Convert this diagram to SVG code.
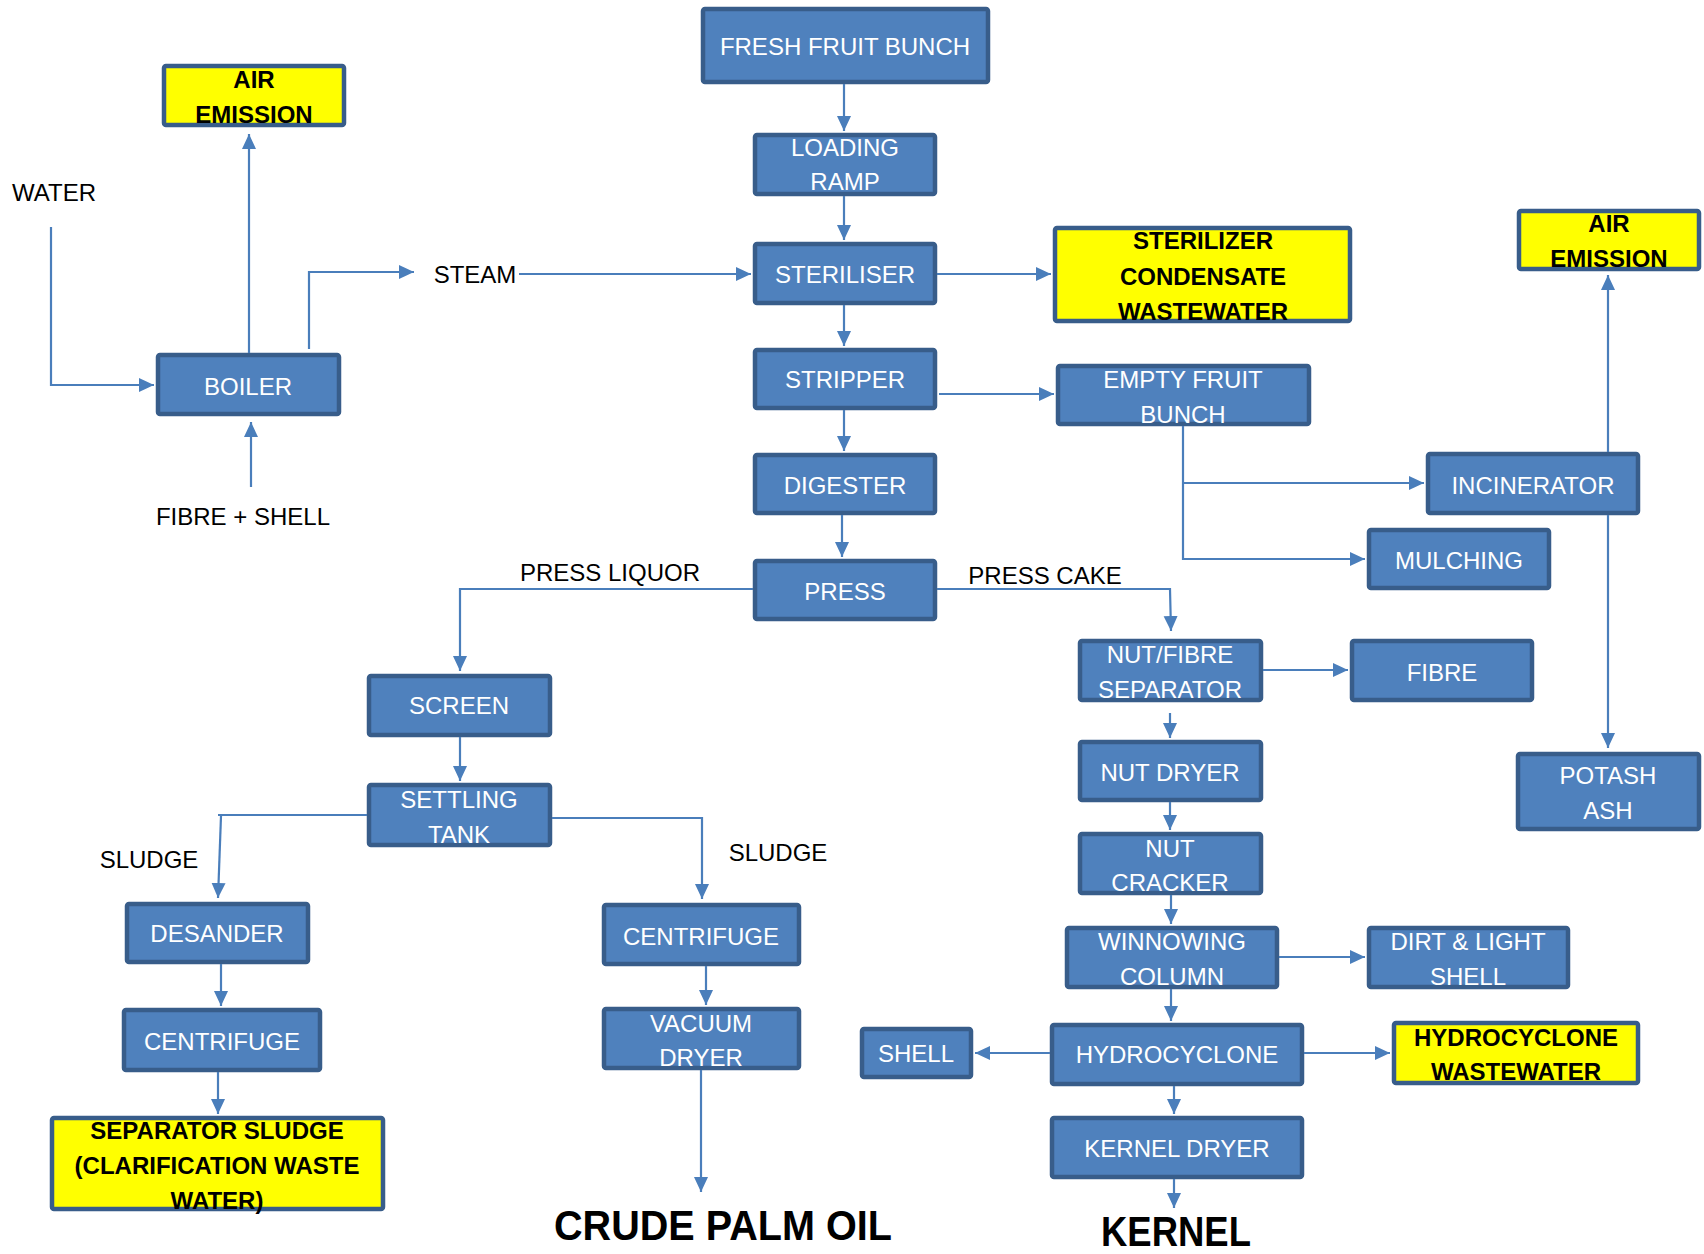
<svg xmlns="http://www.w3.org/2000/svg" width="1704" height="1254" viewBox="0 0 1704 1254">
<style>
.box{fill:#4F81BD;stroke:#385D8A;stroke-width:4.5}
.ybox{fill:#FFFF00;stroke:#385D8A;stroke-width:4.5}
.t{font-family:"Liberation Sans",Arial,sans-serif;font-size:24px;fill:#FFFFFF;text-anchor:middle}
.yt{font-family:"Liberation Sans",Arial,sans-serif;font-size:24px;font-weight:bold;fill:#000000;text-anchor:middle}
.lbl{font-family:"Liberation Sans",Arial,sans-serif;font-size:24px;fill:#000000;text-anchor:middle}
.big{font-family:"Liberation Sans",Arial,sans-serif;font-size:42px;font-weight:bold;fill:#000000;text-anchor:middle}
.c{fill:none;stroke:#4A7EBB;stroke-width:2.2}
</style>
<defs>
<marker id="ah" markerUnits="userSpaceOnUse" markerWidth="16" markerHeight="16" refX="15" refY="8" orient="auto">
<path d="M0,1 L15,8 L0,15 z" fill="#4A7EBB"/>
</marker>
</defs>
<rect width="1704" height="1254" fill="#FFFFFF"/>

<g id="labels">
<text class="lbl" x="54" y="201">WATER</text>
<text class="lbl" x="475" y="283">STEAM</text>
<text class="lbl" x="243" y="525">FIBRE + SHELL</text>
<text class="lbl" x="610" y="581">PRESS LIQUOR</text>
<text class="lbl" x="1045" y="584">PRESS CAKE</text>
<text class="lbl" x="149" y="868">SLUDGE</text>
<text class="lbl" x="778" y="861">SLUDGE</text>
<text class="big" x="723" y="1240" textLength="338" lengthAdjust="spacingAndGlyphs">CRUDE PALM OIL</text>
<text class="big" x="1176" y="1246" textLength="150" lengthAdjust="spacingAndGlyphs">KERNEL</text>
</g>

<g id="air-emission-1"><rect class="ybox" x="164" y="66" width="180" height="59" rx="2"/><text class="yt" x="254" y="88">AIR</text><text class="yt" x="254" y="123">EMISSION</text></g>
<g id="boiler"><rect class="box" x="158" y="355" width="181" height="59" rx="2"/><text class="t" x="248" y="395">BOILER</text></g>
<g id="fresh-fruit-bunch"><rect class="box" x="703" y="9" width="285" height="73" rx="2"/><text class="t" x="845" y="55">FRESH FRUIT BUNCH</text></g>
<g id="loading-ramp"><rect class="box" x="755" y="135" width="180" height="59" rx="2"/><text class="t" x="845" y="156">LOADING</text><text class="t" x="845" y="190">RAMP</text></g>
<g id="steriliser"><rect class="box" x="755" y="244" width="180" height="59" rx="2"/><text class="t" x="845" y="283">STERILISER</text></g>
<g id="sterilizer-condensate"><rect class="ybox" x="1055" y="228" width="295" height="93" rx="2"/><text class="yt" x="1203" y="249">STERILIZER</text><text class="yt" x="1203" y="285">CONDENSATE</text><text class="yt" x="1203" y="320">WASTEWATER</text></g>
<g id="stripper"><rect class="box" x="755" y="350" width="180" height="58" rx="2"/><text class="t" x="845" y="388">STRIPPER</text></g>
<g id="empty-fruit-bunch"><rect class="box" x="1058" y="366" width="251" height="58" rx="2"/><text class="t" x="1183" y="388">EMPTY FRUIT</text><text class="t" x="1183" y="423">BUNCH</text></g>
<g id="digester"><rect class="box" x="755" y="455" width="180" height="58" rx="2"/><text class="t" x="845" y="494">DIGESTER</text></g>
<g id="press"><rect class="box" x="755" y="561" width="180" height="58" rx="2"/><text class="t" x="845" y="600">PRESS</text></g>
<g id="incinerator"><rect class="box" x="1428" y="454" width="210" height="59" rx="2"/><text class="t" x="1533" y="494">INCINERATOR</text></g>
<g id="mulching"><rect class="box" x="1369" y="530" width="180" height="58" rx="2"/><text class="t" x="1459" y="569">MULCHING</text></g>
<g id="air-emission-2"><rect class="ybox" x="1519" y="211" width="180" height="58" rx="2"/><text class="yt" x="1609" y="232">AIR</text><text class="yt" x="1609" y="267">EMISSION</text></g>
<g id="potash-ash"><rect class="box" x="1518" y="754" width="181" height="75" rx="2"/><text class="t" x="1608" y="784">POTASH</text><text class="t" x="1608" y="819">ASH</text></g>
<g id="nut-fibre-separator"><rect class="box" x="1080" y="641" width="181" height="59" rx="2"/><text class="t" x="1170" y="663">NUT/FIBRE</text><text class="t" x="1170" y="698">SEPARATOR</text></g>
<g id="fibre"><rect class="box" x="1352" y="641" width="180" height="59" rx="2"/><text class="t" x="1442" y="681">FIBRE</text></g>
<g id="nut-dryer"><rect class="box" x="1080" y="742" width="181" height="58" rx="2"/><text class="t" x="1170" y="781">NUT DRYER</text></g>
<g id="nut-cracker"><rect class="box" x="1080" y="834" width="181" height="59" rx="2"/><text class="t" x="1170" y="857">NUT</text><text class="t" x="1170" y="891">CRACKER</text></g>
<g id="winnowing-column"><rect class="box" x="1067" y="928" width="210" height="59" rx="2"/><text class="t" x="1172" y="950">WINNOWING</text><text class="t" x="1172" y="985">COLUMN</text></g>
<g id="dirt-light-shell"><rect class="box" x="1369" y="928" width="199" height="59" rx="2"/><text class="t" x="1468" y="950">DIRT &amp; LIGHT</text><text class="t" x="1468" y="985">SHELL</text></g>
<g id="hydrocyclone"><rect class="box" x="1052" y="1025" width="250" height="59" rx="2"/><text class="t" x="1177" y="1063">HYDROCYCLONE</text></g>
<g id="shell"><rect class="box" x="862" y="1029" width="109" height="48" rx="2"/><text class="t" x="916" y="1062">SHELL</text></g>
<g id="hydrocyclone-wastewater"><rect class="ybox" x="1394" y="1023" width="244" height="60" rx="2"/><text class="yt" x="1516" y="1046">HYDROCYCLONE</text><text class="yt" x="1516" y="1080">WASTEWATER</text></g>
<g id="kernel-dryer"><rect class="box" x="1052" y="1118" width="250" height="59" rx="2"/><text class="t" x="1177" y="1157">KERNEL DRYER</text></g>
<g id="screen"><rect class="box" x="369" y="676" width="181" height="59" rx="2"/><text class="t" x="459" y="714">SCREEN</text></g>
<g id="settling-tank"><rect class="box" x="369" y="785" width="181" height="60" rx="2"/><text class="t" x="459" y="808">SETTLING</text><text class="t" x="459" y="843">TANK</text></g>
<g id="desander"><rect class="box" x="127" y="904" width="181" height="58" rx="2"/><text class="t" x="217" y="942">DESANDER</text></g>
<g id="centrifuge-1"><rect class="box" x="124" y="1010" width="196" height="60" rx="2"/><text class="t" x="222" y="1050">CENTRIFUGE</text></g>
<g id="separator-sludge"><rect class="ybox" x="52" y="1118" width="331" height="91" rx="2"/><text class="yt" x="217" y="1139">SEPARATOR SLUDGE</text><text class="yt" x="217" y="1174">(CLARIFICATION WASTE</text><text class="yt" x="217" y="1209">WATER)</text></g>
<g id="centrifuge-2"><rect class="box" x="604" y="905" width="195" height="59" rx="2"/><text class="t" x="701" y="945">CENTRIFUGE</text></g>
<g id="vacuum-dryer"><rect class="box" x="604" y="1009" width="195" height="59" rx="2"/><text class="t" x="701" y="1032">VACUUM</text><text class="t" x="701" y="1066">DRYER</text></g>

<g id="connectors">
<path class="c" d="M844,84 V131" marker-end="url(#ah)"/>
<path class="c" d="M844,196 V240" marker-end="url(#ah)"/>
<path class="c" d="M844,305 V346" marker-end="url(#ah)"/>
<path class="c" d="M844,410 V451" marker-end="url(#ah)"/>
<path class="c" d="M842,515 V557" marker-end="url(#ah)"/>
<path class="c" d="M937,274 H1051" marker-end="url(#ah)"/>
<path class="c" d="M939,394 H1054" marker-end="url(#ah)"/>
<path class="c" d="M51,227 V385 H154" marker-end="url(#ah)"/>
<path class="c" d="M249,353 V134" marker-end="url(#ah)"/>
<path class="c" d="M309,349 V272 H414" marker-end="url(#ah)"/>
<path class="c" d="M519,274 H751" marker-end="url(#ah)"/>
<path class="c" d="M251,487 V422" marker-end="url(#ah)"/>
<path class="c" d="M1183,426 V559 H1365" marker-end="url(#ah)"/>
<path class="c" d="M1183,483 H1424" marker-end="url(#ah)"/>
<path class="c" d="M1608,452 V275" marker-end="url(#ah)"/>
<path class="c" d="M1608,515 V748" marker-end="url(#ah)"/>
<path class="c" d="M753,589 H460 V671" marker-end="url(#ah)"/>
<path class="c" d="M937,589 H1170 L1171,631" marker-end="url(#ah)"/>
<path class="c" d="M1263,670 H1348" marker-end="url(#ah)"/>
<path class="c" d="M1170,713 V738" marker-end="url(#ah)"/>
<path class="c" d="M1170,802 V830" marker-end="url(#ah)"/>
<path class="c" d="M1171,895 V924" marker-end="url(#ah)"/>
<path class="c" d="M1279,957 H1365" marker-end="url(#ah)"/>
<path class="c" d="M1171,989 V1021" marker-end="url(#ah)"/>
<path class="c" d="M1050,1053 H975" marker-end="url(#ah)"/>
<path class="c" d="M1304,1053 H1390" marker-end="url(#ah)"/>
<path class="c" d="M1174,1086 V1114" marker-end="url(#ah)"/>
<path class="c" d="M1174,1179 V1208" marker-end="url(#ah)"/>
<path class="c" d="M460,737 V781" marker-end="url(#ah)"/>
<path class="c" d="M367,815 H218"/>
<path class="c" d="M221,816 L218,898" marker-end="url(#ah)"/>
<path class="c" d="M552,818 H702 V899" marker-end="url(#ah)"/>
<path class="c" d="M221,964 V1006" marker-end="url(#ah)"/>
<path class="c" d="M218,1072 V1114" marker-end="url(#ah)"/>
<path class="c" d="M706,966 V1005" marker-end="url(#ah)"/>
<path class="c" d="M701,1070 V1192" marker-end="url(#ah)"/>
</g>
</svg>
